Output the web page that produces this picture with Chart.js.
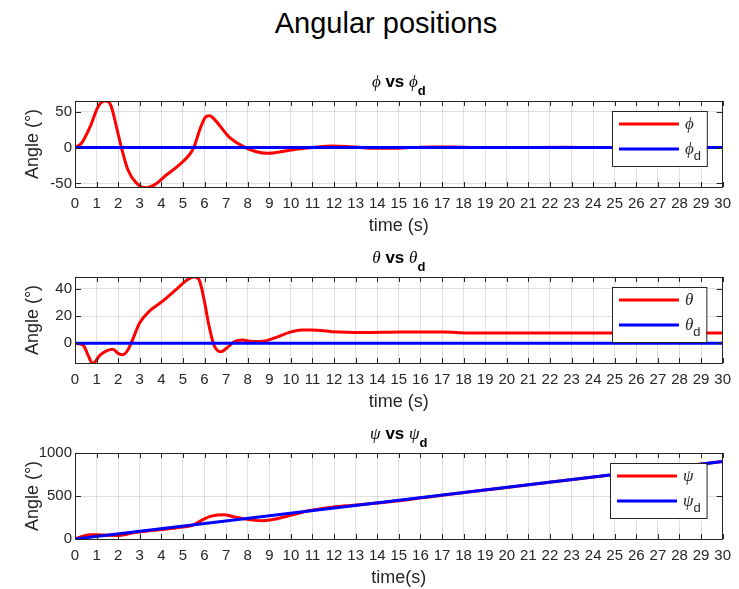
<!DOCTYPE html>
<html>
<head>
<meta charset="utf-8">
<script src="https://cdn.jsdelivr.net/npm/chart.js@4.4.1/dist/chart.umd.min.js"></script>
<style>
  body { margin: 0; background: #fff; }
  #wrap { position: relative; width: 739px; height: 589px; overflow: hidden; }
  #title { position: absolute; top: 9px; left: 0; width: 772px; text-align: center;
           font: 29px/29px "Liberation Sans", Arial, sans-serif; color: #000; }
  canvas { position: absolute; left: 0; }
</style>
</head>
<body>
<div id="wrap">
  <div id="title">Angular positions</div>
  <canvas id="c1" width="739" height="177" style="top:60px"></canvas>
  <canvas id="c2" width="739" height="178" style="top:235px"></canvas>
  <canvas id="c3" width="739" height="178" style="top:411px"></canvas>
</div>
<script>
// x ticks (seconds)
const timeTicks = [0, 1, 2, 3, 4, 5, 6, 7, 8, 9, 10, 11, 12, 13, 14, 15, 16, 17, 18, 19, 20,
                   21, 22, 23, 24, 25, 26, 27, 28, 29, 30];

// phi vs phi_d
const phiTime = [0, 0.3, 0.7, 1.07, 1.38, 1.66, 1.92, 2.15, 2.45, 2.84, 3.3, 3.68, 4.2, 4.83, 5.3, 5.5,
                 5.83, 6.06, 6.24, 6.5, 7.13, 7.9, 8.36, 8.9, 9.6, 10.35, 11, 11.9, 12.8, 13.5, 14.5,
                 15.5, 16.5, 17.5, 18.5, 20, 22.7, 24, 30];
const phiDeg = [0, 6, 29, 57, 65, 59, 29, 0, -31, -49.5, -56, -52, -39, -24, -10, 0,
                29, 43, 44.4, 38, 15, 0, -5.5, -8, -5.5, -2, 0, 2.3, 1, -0.5, -1,
                0, 0.8, 0.8, 0, 0, 0.5, 0, 0];
const phiDesTime = [0, 30];
const phiDesDeg = [0, 0];
const phiTicks = [-50, 0, 50];

// theta vs theta_d
const thetaTime = [0, 0.38, 0.61, 0.81, 1.15, 1.46, 1.76, 2.0, 2.22, 2.45, 2.6, 3.0, 3.45, 4.06, 4.68,
                   5.21, 5.52, 5.75, 5.98, 6.21, 6.44, 6.75, 7.06, 7.36, 7.75, 8.2, 8.82, 9.28, 9.9,
                   10.5, 11, 11.9, 13.4, 15.1, 17.1, 18.2, 30];
const thetaDeg = [0, -1.5, -9, -15, -9, -5.6, -4.4, -7.5, -8.5, -5, 0, 15, 23.7, 31, 39.5,
                  46.8, 49, 46.8, 32, 12.7, -1.5, -6.3, -3.2, 1, 2.4, 1.2, 1.7, 4.1, 7.8,
                  9.8, 9.8, 8.5, 7.9, 8.3, 8.3, 7.6, 7.6];
const thetaDesTime = [0, 30];
const thetaDesDeg = [0, 0];
const thetaTicks = [0, 20, 40];

// psi vs psi_d
const psiTime = [0, 0.69, 1.0, 1.5, 2.0, 2.7, 3.9, 4.83, 5.45, 5.9, 6.36, 6.9, 7.3, 7.9, 8.67, 9.1,
                 9.9, 10.66, 11.27, 11.9, 12.65, 13.4, 15, 17, 20, 25, 30];
const psiDeg = [0, 50, 50, 45, 42, 72, 108, 135, 160, 223, 269, 281, 262, 231, 212, 223,
                269, 319, 346, 369, 388, 404, 445, 510, 600, 750, 900];
const psiDesTime = [0, 30];
const psiDesDeg = [0, 900];
const psiTicks = [0, 500, 1000];

const INK = '#262626';
const GRID = 'rgba(38,38,38,0.15)';
const SANS = '"Liberation Sans", Arial, sans-serif';
const SERIF = '"Liberation Serif", "DejaVu Serif", serif';
Chart.defaults.font.family = SANS;

const pts = (ts, vs) => ts.map((t, i) => ({ x: t, y: vs[i] }));

function drawParts(ctx, parts, x, y, align) {
  let w = 0;
  parts.forEach(p => { ctx.font = p.font; w += ctx.measureText(p.text).width; });
  let cx = align === 'center' ? x - w / 2 : x;
  parts.forEach(p => {
    ctx.font = p.font;
    ctx.fillText(p.text, cx, y + (p.dy || 0));
    cx += ctx.measureText(p.text).width;
  });
  return w;
}

function matlabLook(sym) {
  const g = 'italic 17px ' + SERIF;
  return {
    id: 'matlabLook',
    afterDraw(chart) {
      const { ctx, chartArea: a, scales: { x, y } } = chart;
      ctx.save();
      // inward tick marks
      ctx.strokeStyle = INK;
      ctx.lineWidth = 1;
      ctx.beginPath();
      x.ticks.forEach(t => {
        const px = Math.round(x.getPixelForValue(t.value)) + 0.5;
        ctx.moveTo(px, a.bottom); ctx.lineTo(px, a.bottom - 5);
        ctx.moveTo(px, a.top); ctx.lineTo(px, a.top + 5);
      });
      y.ticks.forEach(t => {
        const py = Math.round(y.getPixelForValue(t.value)) + 0.5;
        ctx.moveTo(a.left, py); ctx.lineTo(a.left + 6, py);
        ctx.moveTo(a.right, py); ctx.lineTo(a.right - 6, py);
      });
      ctx.stroke();
      ctx.strokeRect(Math.round(a.left) + 0.5, Math.round(a.top) + 0.5,
                     Math.round(a.right - a.left) - 1, Math.round(a.bottom - a.top));

      // subplot title
      ctx.fillStyle = '#000';
      ctx.textBaseline = 'alphabetic';
      drawParts(ctx, [
        { text: sym, font: g },
        { text: ' vs ', font: 'bold 17px ' + SANS },
        { text: sym, font: g },
        { text: 'd', font: 'bold 13px ' + SANS, dy: 8 }
      ], (a.left + a.right) / 2, a.top - 14.5, 'center');

      // legend inside, top right
      ctx.font = g;
      const tw = ctx.measureText(sym).width + 8;
      const bw = 73 + tw + 5, bh = 55;
      const bx = Math.round(a.right - 16 - bw), by = Math.round(a.top + 10);
      ctx.fillStyle = '#fff';
      ctx.fillRect(bx, by, bw, bh);
      ctx.strokeStyle = INK;
      ctx.lineWidth = 1;
      ctx.strokeRect(bx + 0.5, by + 0.5, bw, bh);
      chart.data.datasets.forEach((ds, i) => {
        const ly = by + 13 + 25 * i;
        ctx.strokeStyle = ds.borderColor;
        ctx.lineWidth = 3;
        ctx.beginPath();
        ctx.moveTo(bx + 7, ly); ctx.lineTo(bx + 67, ly);
        ctx.stroke();
        ctx.fillStyle = INK;
        const parts = [{ text: sym, font: g }];
        if (i === 1) parts.push({ text: 'd', font: '13px ' + SANS, dy: 6 });
        drawParts(ctx, parts, bx + 73, ly + 4.5, 'left');
      });
      ctx.restore();
    }
  };
}

function makePanel(id, p) {
  new Chart(document.getElementById(id), {
    type: 'line',
    data: {
      datasets: [
        { data: pts(p.t, p.v), borderColor: '#ff0000', borderWidth: 3, pointRadius: 0,
          cubicInterpolationMode: 'monotone', order: 2 },
        { data: pts(p.dt, p.dv), borderColor: '#0000ff', borderWidth: 3, pointRadius: 0, order: 1 }
      ]
    },
    options: {
      responsive: false,
      animation: false,
      events: [],
      layout: { padding: { top: p.padTop, right: 12, left: 0, bottom: 0 } },
      plugins: { legend: { display: false }, tooltip: { enabled: false } },
      scales: {
        x: {
          type: 'linear', min: 0, max: 30,
          afterBuildTicks: s => { s.ticks = timeTicks.map(v => ({ value: v })); },
          afterFit: s => { s.height = 50; },
          ticks: { autoSkip: false, maxRotation: 0, padding: 8, color: INK, font: { size: 15 },
                   callback: v => String(v) },
          grid: { color: GRID, drawTicks: false },
          border: { display: false },
          title: { display: true, text: p.xTitle, color: INK, font: { size: 18 }, padding: 0 }
        },
        y: {
          min: p.min, max: p.max,
          afterBuildTicks: s => { s.ticks = p.ticks.map(v => ({ value: v })); },
          afterFit: s => { s.width = 75; },
          ticks: { padding: 3, color: INK, font: { size: 15 }, callback: v => String(v) },
          grid: { color: GRID, drawTicks: false },
          border: { display: false },
          title: { display: true, text: 'Angle (°)', color: INK, font: { size: 18 },
                   padding: { top: 22, bottom: 0 } }
        }
      }
    },
    plugins: [matlabLook(p.sym)]
  });
}

makePanel('c1', { t: phiTime, v: phiDeg, dt: phiDesTime, dv: phiDesDeg, ticks: phiTicks,
                  min: -55, max: 65, sym: '\u03D5', xTitle: 'time (s)', padTop: 41 });
makePanel('c2', { t: thetaTime, v: thetaDeg, dt: thetaDesTime, dv: thetaDesDeg, ticks: thetaTicks,
                  min: -14.6, max: 48.8, sym: '\u03B8', xTitle: 'time (s)', padTop: 42 });
makePanel('c3', { t: psiTime, v: psiDeg, dt: psiDesTime, dv: psiDesDeg, ticks: psiTicks,
                  min: 0, max: 1000, sym: '\u03C8', xTitle: 'time(s)', padTop: 42 });
</script>
</body>
</html>
